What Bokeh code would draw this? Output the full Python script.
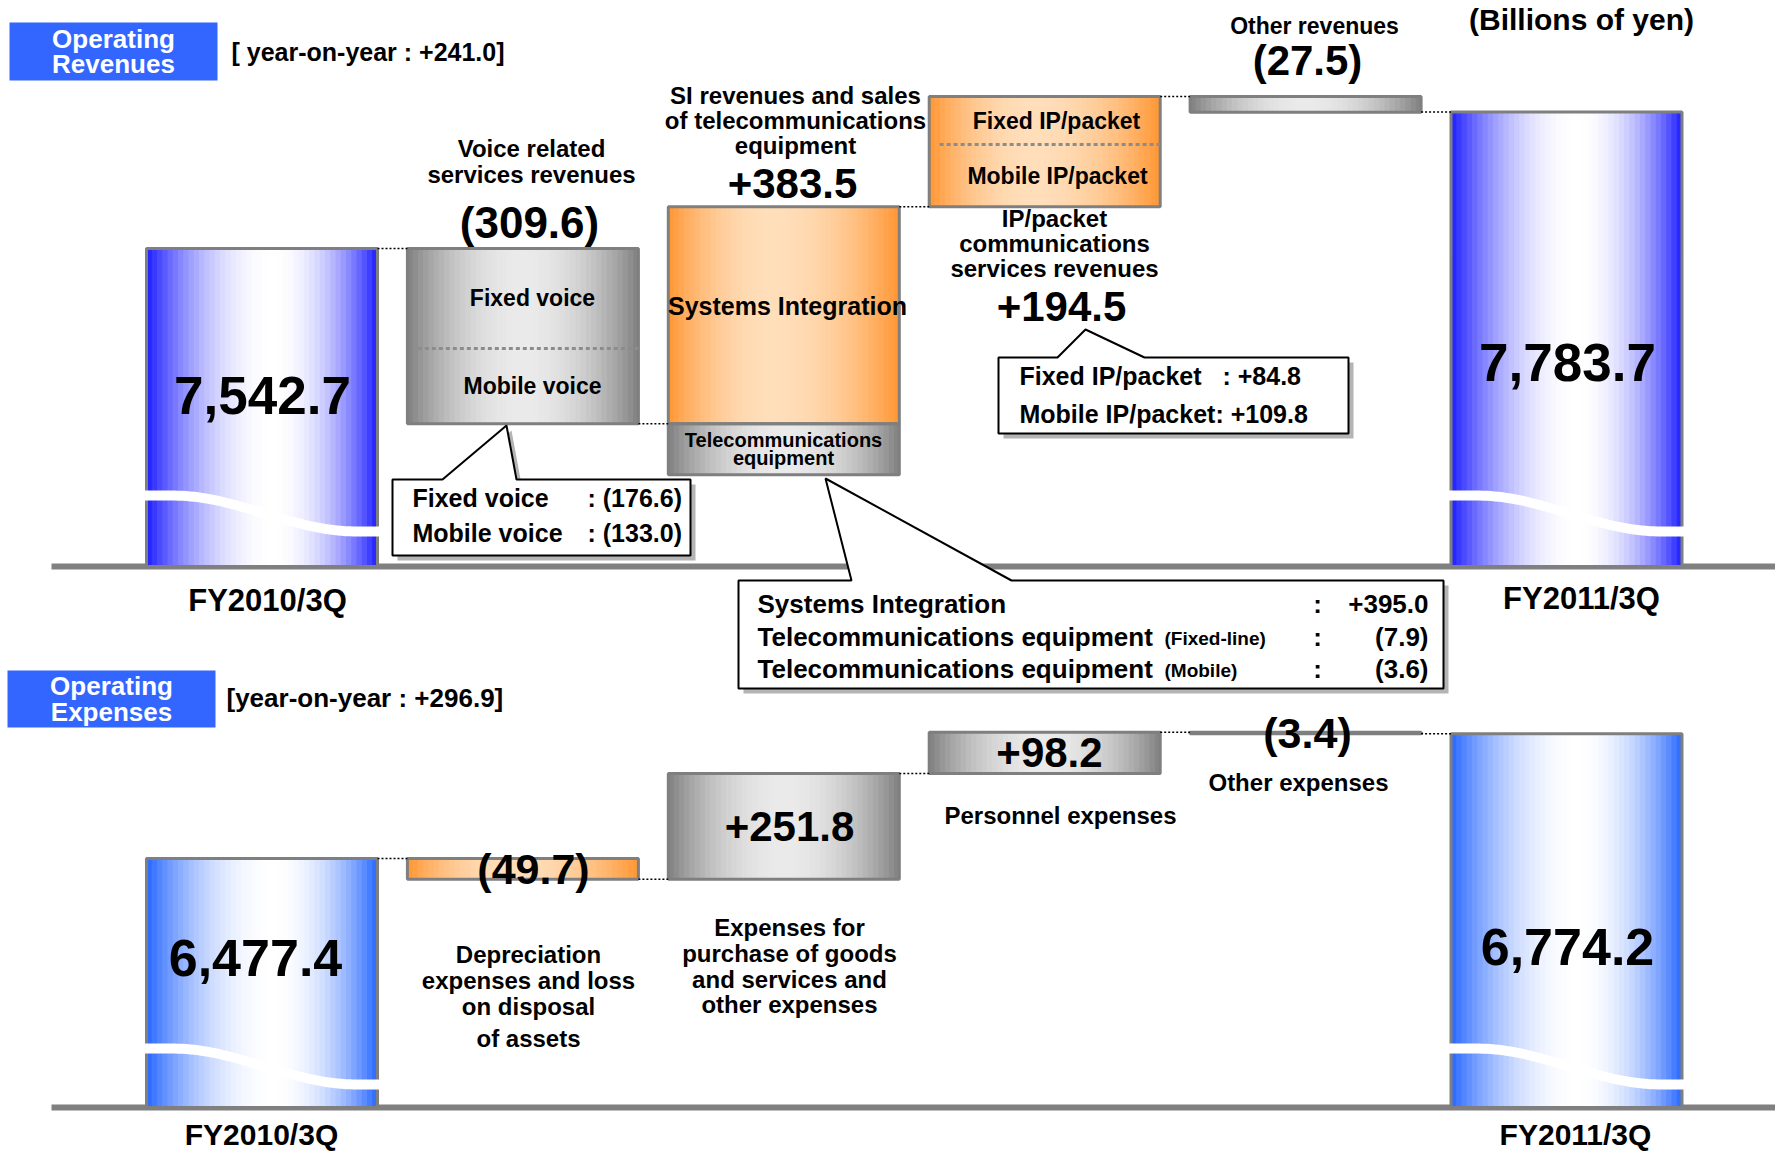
import math
from bokeh.plotting import figure
from bokeh.models import Range1d
from bokeh.core.properties import value
from bokeh.embed import file_html
from bokeh.resources import INLINE

# ---------------- data ----------------
rev_steps = ["FY2010/3Q", "Voice related services revenues",
             "SI revenues and sales of telecommunications equipment",
             "IP/packet communications services revenues", "Other revenues", "FY2011/3Q"]
rev_values = [7542.7, -309.6, 383.5, 194.5, -27.5, 7783.7]
rev_yoy = 241.0
voice_parts = ["Fixed voice", "Mobile voice"]
voice_values = [-176.6, -133.0]
si_parts = ["Systems Integration", "Telecommunications equipment", "Telecommunications equipment"]
si_notes = ["", "(Fixed-line)", "(Mobile)"]
si_values = [395.0, -7.9, -3.6]
ip_parts = ["Fixed IP/packet", "Mobile IP/packet"]
ip_values = [84.8, 109.8]

exp_steps = ["FY2010/3Q", "Depreciation expenses and loss on disposal of assets",
             "Expenses for purchase of goods and services and other expenses",
             "Personnel expenses", "Other expenses", "FY2011/3Q"]
exp_values = [6477.4, -49.7, 251.8, 98.2, -3.4, 6774.2]
exp_yoy = 296.9
unit_label = "(Billions of yen)"

# ---------------- layout (styling constants) ----------------
W, H = 1775, 1153
X0, XS = 261.5, 260.9          # screen x of first bar centre, spacing
HW = 0.4427                    # half bar width (index units)
REV_S, REV_APX, REV_BASE_PX = 0.566, 248.0, 566.0
EXP_S, EXP_APX, EXP_BASE_PX = 0.42, 858.0, 1107.0
SANS = "Liberation Sans"


def xpx(px):
    return (px - X0) / XS


def ry(px):
    return rev_values[0] + (REV_APX - px) / REV_S


def ey(px):
    return exp_values[0] + (EXP_APX - px) / EXP_S


def ry_px(v):
    return REV_APX - (v - rev_values[0]) * REV_S


def fmt_total(v):
    return f"{v:,.1f}"


def fmt_delta(v):
    return f"+{v:.1f}" if v >= 0 else f"({-v:.1f})"


p = figure(width=W, height=H, x_range=Range1d(xpx(0), xpx(W)),
           y_range=Range1d(ry(H), ry(0)), x_axis_location=None, y_axis_location=None,
           toolbar_location=None, output_backend="svg", min_border=0,
           outline_line_color=None, background_fill_color="white",
           border_fill_color="white")
p.extra_y_ranges = {"exp": Range1d(ey(H), ey(0))}
p.grid.visible = False


def conv(panel):
    return (ry, {}) if panel == "rev" else (ey, {"y_range_name": "exp"})


STYLES = {
    "blue_rev": ((30, 30, 255), (255, 255, 255), 0.55),
    "blue_exp": ((40, 104, 255), (255, 255, 255), 0.55),
    "gray": ((128, 128, 128), (234, 234, 234), 0.5),
    "orange": ((255, 150, 50), (255, 222, 186), 0.45),
}
N = 44


def mix(c1, c2, f):
    return "#%02x%02x%02x" % tuple(int(round(a + (b - a) * f)) for a, b in zip(c1, c2))


def profile(t, c):
    u = t / c if t < c else (1 - t) / (1 - c)
    u = max(0.0, min(1.0, u))
    return 1 - (1 - u) ** 2


def new_store():
    return {"left": [], "right": [], "bottom": [], "top": [], "color": []}


def add_bar(strips, borders, xc, lo, hi, style):
    c_edge, c_mid, c = STYLES[style]
    left = xc - HW
    w = 2 * HW / N
    for k in range(N):
        t = (k + 0.5) / N
        strips["left"].append(left + k * w)
        strips["right"].append(min(left + (k + 1) * w + w * 0.15, xc + HW))
        strips["bottom"].append(lo)
        strips["top"].append(hi)
        strips["color"].append(mix(c_edge, c_mid, profile(t, c)))
    borders["left"].append(left)
    borders["right"].append(xc + HW)
    borders["bottom"].append(lo)
    borders["top"].append(hi)
    borders["color"].append("#7f7f7f")


def draw_bars(strips, borders, panel):
    _, kw = conv(panel)
    p.quad(left="left", right="right", bottom="bottom", top="top", fill_color="color",
           line_color=None, source=strips, **kw)
    p.quad(left="left", right="right", bottom="bottom", top="top", fill_color=None,
           line_color="#7f7f7f", line_width=3, source=borders, **kw)


def wave(xc, base_px, panel, mid, amp):
    yf, kw = conv(panel)
    n = 60
    xs_u, ys_u, xs_l, ys_l = [], [], [], []
    for k in range(n + 1):
        t = k / n
        tt = min(1.0, max(0.0, (t - 0.12) / 0.78))
        h = mid + amp * math.cos(math.pi * tt)
        x = xc - HW - 0.014 + t * (2 * HW + 0.028)
        xs_u.append(x)
        ys_u.append(yf(base_px - h))
        xs_l.append(x)
        ys_l.append(yf(base_px - h + 10))
    p.patch(xs_u + xs_l[::-1], ys_u + ys_l[::-1], fill_color="white", line_color=None, **kw)


def T(x_px, y_px, s, size, panel="rev", align="center", color="black", font=SANS, style="bold", y_val=None):
    yf, kw = conv(panel)
    yv = yf(y_px) if y_val is None else y_val
    p.text(x=[xpx(x_px)], y=[yv], text=[s], text_font=value(font), text_font_size=f"{size}px",
           text_font_style=style, text_align=align, text_baseline="middle", text_color=color, **kw)


def rect_px(x0, y0, x1, y1, panel, color):
    yf, kw = conv(panel)
    p.quad(left=[xpx(x0)], right=[xpx(x1)], bottom=[yf(y1)], top=[yf(y0)], fill_color=color,
           line_color=None, **kw)


def callout(box, ptr, panel):
    yf, kw = conv(panel)
    x0, y0, x1, y1 = box
    a, apx, apy, e = ptr
    pts = [(x0, y0), (a, y0), (apx, apy), (e, y0), (x1, y0), (x1, y1), (x0, y1)]
    sx = [xpx(x + 5) for x, y in pts]
    sy = [yf(y + 5) for x, y in pts]
    p.patch(sx, sy, fill_color="#b4b4b4", line_color=None, **kw)
    p.patch([xpx(x) for x, y in pts], [yf(y) for x, y in pts], fill_color="white",
            line_color="black", line_width=2, **kw)


# ---------------- revenue waterfall ----------------
rev_base = ry(REV_BASE_PX)
L0 = rev_values[0]
L1 = L0 + rev_values[1]
L2 = L1 + rev_values[2]
L3 = L2 + rev_values[3]
L4 = L3 + rev_values[4]
LE = rev_values[5]
voice_sep = L0 + voice_values[0]
ip_sep = L2 + ip_values[1]
TAB_PX = 51
tab_lo = L1 - TAB_PX / REV_S

rs, rb = new_store(), new_store()
add_bar(rs, rb, 0, rev_base, L0, "blue_rev")
add_bar(rs, rb, 1, L1, L0, "gray")
add_bar(rs, rb, 2, L1, L2, "orange")
add_bar(rs, rb, 2, tab_lo, L1, "gray")
add_bar(rs, rb, 3, L2, L3, "orange")
add_bar(rs, rb, 4, L4, L3, "gray")
add_bar(rs, rb, 5, rev_base, LE, "blue_rev")

# ---------------- expense waterfall ----------------
exp_base = ey(EXP_BASE_PX)
E0 = exp_values[0]
E1 = E0 + exp_values[1]
E2 = E1 + exp_values[2]
E3 = E2 + exp_values[3]
E4 = E3 + exp_values[4]
EE = exp_values[5]

es, eb = new_store(), new_store()
add_bar(es, eb, 0, exp_base, E0, "blue_exp")
add_bar(es, eb, 1, E1, E0, "orange")
add_bar(es, eb, 2, E1, E2, "gray")
add_bar(es, eb, 3, E2, E3, "gray")
add_bar(es, eb, 4, E4, E3, "orange")
add_bar(es, eb, 5, exp_base, EE, "blue_exp")

# baselines
p.line([xpx(51), xpx(W)], [rev_base, rev_base], line_color="#808080", line_width=6)
p.line([xpx(51), xpx(W)], [exp_base, exp_base], line_color="#808080", line_width=6, y_range_name="exp")

draw_bars(rs, rb, "rev")
draw_bars(es, eb, "exp")

for i in (0, 5):
    wave(i, REV_BASE_PX, "rev", 58, 18)
    wave(i, EXP_BASE_PX, "exp", 46, 18)

# dotted separators inside split bars
p.line([1 - HW + 0.04, 1 + HW], [voice_sep, voice_sep], line_color="#8c8c8c", line_width=3, line_dash="4 3")
p.line([3 - HW + 0.04, 3 + HW], [ip_sep, ip_sep], line_color="#8c8c8c", line_width=3, line_dash="4 3")

# connectors
rev_conn = [L0, L1, L2, L3, LE]
exp_conn = [E0, E1, E2, E3, EE]
p.segment(x0=[i + HW for i in range(5)], x1=[i + 1 - HW for i in range(5)], y0=rev_conn, y1=rev_conn,
          line_color="black", line_width=1.5, line_dash="2 2")
p.segment(x0=[i + HW for i in range(5)], x1=[i + 1 - HW for i in range(5)], y0=exp_conn, y1=exp_conn,
          line_color="black", line_width=1.5, line_dash="2 2", y_range_name="exp")

# callouts
callout((392, 479, 690, 555), (442, 506, 425, 516), "rev")
callout((998, 357, 1348, 433), (1057, 1085, 329, 1144), "rev")
callout((738, 580, 1443, 688), (851, 825, 478, 1011), "rev")

# title boxes
rect_px(9, 22, 217, 80, "rev", "#3366ff")
rect_px(7, 670, 215, 727, "exp", "#3366ff")

# ---------------- texts: revenue ----------------
T(113, 38, "Operating", 26, color="white")
T(113, 63, "Revenues", 26, color="white")
T(231, 51, f"[ year-on-year : +{rev_yoy:.1f}]", 25, align="left")
T(1581, 19, unit_label, 30)

T(262, 395, fmt_total(rev_values[0]), 53)
T(267, 600, rev_steps[0], 31)

T(531, 148, "Voice related", 24)
T(531, 174, "services revenues", 24)
T(529, 222, fmt_delta(rev_values[1]), 44)
T(532, 0, voice_parts[0], 23, y_val=(L0 + voice_sep) / 2)
T(532, 0, voice_parts[1], 23, y_val=(voice_sep + L1) / 2)
T(412, 497, voice_parts[0], 25, align="left")
T(587, 497, ": " + fmt_delta(voice_values[0]), 25, align="left")
T(412, 532, voice_parts[1], 25, align="left")
T(587, 532, ": " + fmt_delta(voice_values[1]), 25, align="left")

T(795, 95, "SI revenues and sales", 24)
T(795, 120, "of telecommunications", 24)
T(795, 145, "equipment", 24)
T(792, 183, fmt_delta(rev_values[2]), 42)
T(787, 305, si_parts[0], 25)
tab_top_px = ry_px(L1)
T(783, tab_top_px + 16, "Telecommunications", 20)
T(783, tab_top_px + 34, "equipment", 20)

si_rows = [603, 636, 668]
for k in range(3):
    T(757, si_rows[k], si_parts[k], 26, align="left")
    if si_notes[k]:
        T(1164, si_rows[k] + 2, si_notes[k], 19, align="left")
    T(1317, si_rows[k], ":", 26)
    T(1428, si_rows[k], fmt_delta(si_values[k]), 26, align="right")

T(1056, 0, ip_parts[0], 23, y_val=(L3 + ip_sep) / 2)
T(1057, 0, ip_parts[1], 23, y_val=(ip_sep + L2) / 2)
T(1054, 218, "IP/packet", 24)
T(1054, 243, "communications", 24)
T(1054, 268, "services revenues", 24)
T(1061, 306, fmt_delta(rev_values[3]), 42)
T(1019, 375, ip_parts[0], 25, align="left")
T(1222, 375, ": " + fmt_delta(ip_values[0]), 25, align="left")
T(1019, 413, ip_parts[1] + ": " + fmt_delta(ip_values[1]), 25, align="left")

T(1314, 25, rev_steps[4], 23)
T(1307, 60, fmt_delta(rev_values[4]), 42)

T(1567, 362, fmt_total(rev_values[5]), 53)
T(1581, 598, rev_steps[5], 31)

# ---------------- texts: expenses ----------------
T(111, 685, "Operating", 26, panel="exp", color="white")
T(111, 711, "Expenses", 26, panel="exp", color="white")
T(226, 697, f"[year-on-year : +{exp_yoy:.1f}]", 26, panel="exp", align="left")

T(255, 957, fmt_total(exp_values[0]), 52, panel="exp")
T(261, 1134, exp_steps[0], 30, panel="exp")

T(533, 0, fmt_delta(exp_values[1]), 43, panel="exp", y_val=(E0 + E1) / 2)
for k, s in enumerate(["Depreciation", "expenses and loss", "on disposal", "of assets"]):
    T(528, [954, 980, 1006, 1038][k], s, 24, panel="exp")

T(789, 0, fmt_delta(exp_values[2]), 42, panel="exp", y_val=(E1 + E2) / 2)
for k, s in enumerate(["Expenses for", "purchase of goods", "and services and", "other expenses"]):
    T(789, [927, 953, 979, 1004][k], s, 24, panel="exp")

T(1049, 0, fmt_delta(exp_values[3]), 42, panel="exp", y_val=(E2 + E3) / 2)
T(1060, 815, exp_steps[3], 24, panel="exp")

T(1307, 0, fmt_delta(exp_values[4]), 43, panel="exp", y_val=(E3 + E4) / 2)
T(1298, 782, exp_steps[4], 24, panel="exp")

T(1567, 946, fmt_total(exp_values[5]), 52, panel="exp")
T(1575, 1134, exp_steps[5], 30, panel="exp")

open("out.html", "w").write(file_html(p, INLINE))
